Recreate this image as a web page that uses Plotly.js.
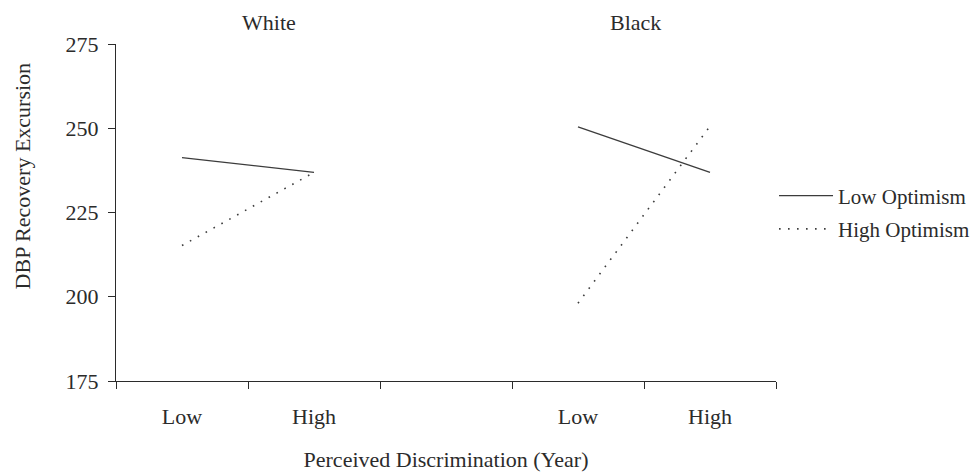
<!DOCTYPE html>
<html>
<head>
<meta charset="utf-8">
<script src="https://cdn.plot.ly/plotly-3.0.1.min.js"></script>
<style>
  html, body { margin: 0; padding: 0; background: #fff; }
  #chart { width: 974px; height: 472px; }
</style>
</head>
<body>
<div id="chart"></div>
<script>
// Category labels along the x axis (third slot is a spacer between groups)
const tickLabels = ['Low', 'High', '', 'Low', 'High'];
const groupNames = ['White', 'Black'];
const seriesNames = ['Low Optimism', 'High Optimism'];

// DBP recovery excursion by perceived discrimination (Low, High)
const whiteLowOptimism = [241.3, 236.9];
const whiteHighOptimism = [215.2, 236.9];
const blackLowOptimism = [250.4, 236.9];
const blackHighOptimism = [198.1, 250.6];

const yTicks = [175, 200, 225, 250, 275];

// slot positions on the numeric x axis for each group
const whiteX = [1, 2];
const blackX = [4, 5];
const slotEdges = tickLabels.map((_, i) => i + 0.5).concat([tickLabels.length + 0.5]);

const ink = '#2b2b2b';
const fontFamily = '"Liberation Serif", "Times New Roman", serif';
const fontSize = 22;
const solid = { color: '#3c3c3c', width: 1.3 };
const dotted = { color: '#3c3c3c', width: 1.6, dash: '1.6px,7.4px' };

const traces = [
  { x: whiteX, y: whiteLowOptimism, mode: 'lines', line: solid, name: seriesNames[0], legendgroup: 'low', showlegend: true },
  { x: blackX, y: blackLowOptimism, mode: 'lines', line: solid, name: seriesNames[0], legendgroup: 'low', showlegend: false },
  { x: whiteX, y: whiteHighOptimism, mode: 'lines', line: dotted, name: seriesNames[1], legendgroup: 'high', showlegend: true },
  { x: blackX, y: blackHighOptimism, mode: 'lines', line: dotted, name: seriesNames[1], legendgroup: 'high', showlegend: false }
];

const layout = {
  width: 974,
  height: 472,
  margin: { l: 116, r: 198, t: 44, b: 91, autoexpand: false },
  paper_bgcolor: '#fff',
  plot_bgcolor: '#fff',
  font: { family: fontFamily, size: fontSize, color: ink },
  showlegend: true,
  legend: {
    x: 0.997, xanchor: 'left', y: 0.61, yanchor: 'top',
    font: { family: fontFamily, size: 21, color: ink },
    bgcolor: 'rgba(0,0,0,0)', borderwidth: 0,
    itemwidth: 54,
    tracegroupgap: 3, traceorder: 'grouped'
  },
  xaxis: {
    range: [0.5, tickLabels.length + 0.5],
    tickmode: 'array',
    tickvals: tickLabels.map((_, i) => i + 1),
    ticktext: tickLabels,
    ticks: '',
    ticklabelstandoff: 16,
    showline: true, linecolor: ink, linewidth: 1,
    showgrid: false, zeroline: false,
    minor: { tickmode: 'array', tickvals: slotEdges, ticks: 'outside', ticklen: 7, tickcolor: ink, tickwidth: 1, showgrid: false },
    title: { text: 'Perceived Discrimination (Year)', font: { family: fontFamily, size: fontSize, color: ink }, standoff: 23 },
    fixedrange: true
  },
  yaxis: {
    range: [175, 275],
    tickmode: 'array',
    tickvals: yTicks,
    ticks: 'outside', ticklen: 7, tickcolor: ink, tickwidth: 1,
    ticklabelstandoff: 5,
    showline: true, linecolor: ink, linewidth: 1,
    showgrid: false, zeroline: false,
    fixedrange: true
  },
  annotations: [
    { text: groupNames[0], xref: 'paper', yref: 'paper', x: 0.232, xanchor: 'center', y: 1, yanchor: 'middle', yshift: 22, showarrow: false, font: { family: fontFamily, size: fontSize, color: ink } },
    { text: groupNames[1], xref: 'paper', yref: 'paper', x: 0.787, xanchor: 'center', y: 1, yanchor: 'middle', yshift: 22, showarrow: false, font: { family: fontFamily, size: fontSize, color: ink } },
    { text: 'DBP Recovery Excursion', xref: 'paper', yref: 'paper', x: -0.142, xanchor: 'center', y: 0.608, yanchor: 'middle', textangle: -90, showarrow: false, font: { family: fontFamily, size: fontSize, color: ink } }
  ]
};

Plotly.newPlot('chart', traces, layout, { displayModeBar: false, staticPlot: true });
</script>
</body>
</html>
